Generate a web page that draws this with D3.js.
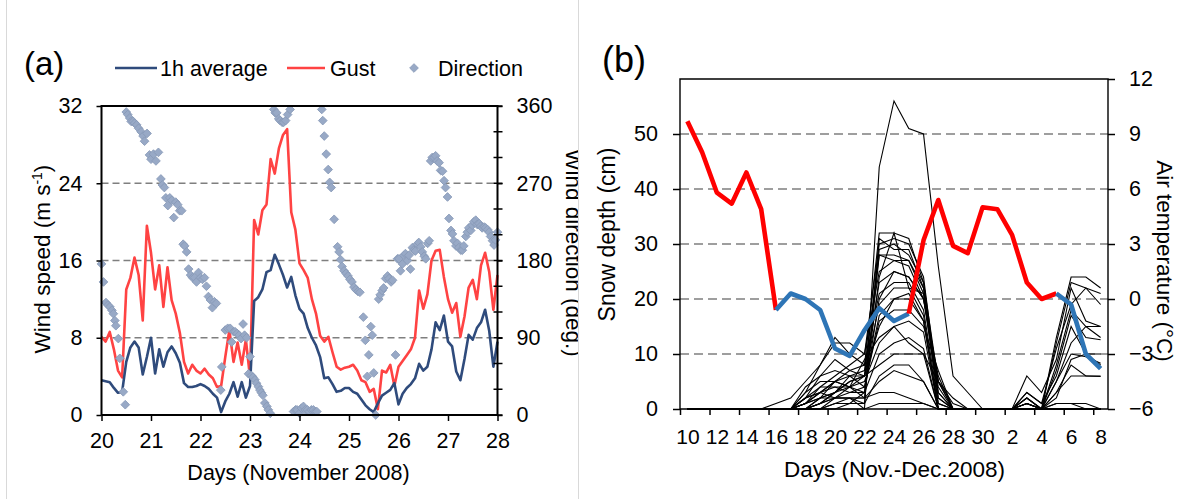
<!DOCTYPE html>
<html>
<head>
<meta charset="utf-8">
<script src="https://d3js.org/d3.v7.min.js"></script>
<style>
  body { margin: 0; background: #fff; }
  svg { display: block; font-family: Arial, "Liberation Sans", sans-serif; }
</style>
</head>
<body>
<svg id="chart" width="1185" height="499"></svg>
<script>

// ---- panel (a): wind, 2-hourly samples from 20 Nov 00:00 to 28 Nov 00:00
var windStart = 20;
var windStep = 1 / 12;

var windAvg = [
    3.6, 3.5, 3.4, 2.8, 2.3, 2.4, 5.5, 7.0, 7.6, 7.0, 4.2, 6.0,
    8.0, 4.3, 6.8, 5.0, 6.5, 7.1, 6.4, 5.4, 3.3, 2.9, 2.9, 3.0,
    3.2, 3.0, 2.7, 2.2, 1.8, 0.3, 1.4, 2.2, 3.4, 1.9, 3.4, 1.8,
    3.0, 11.8, 12.2, 13.0, 14.8, 15.0, 16.6, 15.6, 14.5, 13.2, 14.3, 12.4,
    11.0, 10.5, 9.0, 8.0, 7.2, 6.0, 3.8, 3.9, 3.2, 2.4, 2.5, 2.8,
    2.8, 2.4, 2.2, 1.6, 1.0, 0.6, 0.3, 1.2, 2.0, 2.3, 2.6, 3.3,
    1.1, 2.2, 2.8, 3.2, 3.8, 5.3, 4.6, 5.0, 6.8, 9.6, 8.8, 10.3,
    7.6, 7.1, 4.5, 3.6, 5.8, 8.3, 7.8, 9.0, 9.6, 10.9, 8.7, 5.0,
    7.6
];

var windGust = [
    8.1, 7.6, 8.6, 6.8, 4.6, 3.9, 13.0, 14.2, 16.3, 14.5, 9.8, 19.6,
    16.8, 13.0, 15.5, 11.2, 15.3, 11.9, 10.5, 8.5, 5.5, 4.3, 5.2, 4.6,
    4.3, 4.8, 4.2, 3.8, 2.9, 3.0, 6.0, 8.8, 5.5, 7.5, 5.2, 7.8,
    3.9, 20.2, 18.7, 21.2, 21.8, 26.5, 25.0, 27.6, 29.0, 29.6, 21.0, 19.2,
    15.7, 15.0, 14.2, 12.0, 10.5, 8.2, 7.6, 8.1, 6.5, 5.0, 4.7, 4.9,
    5.0, 5.2, 4.6, 3.6, 3.4, 2.4, 2.7, 0.6, 4.6, 4.4, 5.2, 3.0,
    5.0, 5.6, 6.2, 6.8, 8.0, 12.9, 11.0, 12.5, 16.0, 17.0, 17.1, 14.3,
    12.0, 10.6, 11.6, 8.1, 10.2, 13.2, 14.0, 12.0, 15.5, 16.8, 14.8, 10.9,
    14.5
];

var dirTime = [
    20.00, 20.04, 20.09, 20.13, 20.17, 20.21, 20.24, 20.27, 20.29, 20.34, 20.37, 20.44, 20.48,
    20.50, 20.53, 20.57, 20.60, 20.64, 20.67, 20.71, 20.75, 20.80, 20.84, 20.87, 20.92, 20.97,
    21.00, 21.05, 21.10, 21.15, 21.20, 21.23, 21.27, 21.30, 21.34, 21.38, 21.42, 21.46, 21.50,
    21.54, 21.58, 21.62,
    21.65, 21.68, 21.72, 21.76, 21.80, 21.84, 21.88, 21.92, 21.96, 22.00, 22.04, 22.08, 22.12,
    22.16, 22.20, 22.24, 22.28, 22.32, 22.41, 22.43,
    22.50, 22.55, 22.60, 22.63, 22.67, 22.70, 22.74, 22.78, 22.82, 22.86, 22.89, 22.93, 22.97,
    23.00, 23.03, 23.06, 23.10, 23.13, 23.17, 23.20, 23.23, 23.26, 23.30, 23.34, 23.37, 23.41,
    23.48, 23.51, 23.54, 23.58, 23.61, 23.65, 23.68, 23.72, 23.76, 23.81,
    23.88, 23.92, 23.95, 24.00, 24.04, 24.08, 24.12, 24.16, 24.20, 24.24, 24.28, 24.32, 24.35,
    24.45, 24.47, 24.50, 24.54, 24.58, 24.61, 24.64, 24.70, 24.77, 24.80, 24.83, 24.86, 24.90,
    24.94, 24.98, 25.02, 25.06, 25.10, 25.14, 25.18, 25.22, 25.29, 25.33, 25.37, 25.40, 25.44,
    25.47, 25.50, 25.54,
    25.60, 25.63, 25.67, 25.70, 25.74, 25.78, 25.81, 25.85, 25.88, 25.94, 25.98, 26.01, 26.04,
    26.08, 26.11, 26.14, 26.18, 26.21, 26.24, 26.28, 26.31, 26.34, 26.38, 26.41, 26.45, 26.48,
    26.52, 26.55, 26.59, 26.62,
    26.65, 26.68, 26.72, 26.75, 26.78, 26.82, 26.85, 26.89, 26.92, 26.95, 26.99, 27.02, 27.06,
    27.09, 27.12, 27.16, 27.19, 27.22, 27.26, 27.29, 27.32, 27.36, 27.39, 27.42, 27.46, 27.49,
    27.52, 27.56, 27.59, 27.63, 27.66, 27.69, 27.73, 27.76, 27.80, 27.83, 27.86, 27.90, 27.93,
    27.96, 28.00
];

var dirDeg = [
    176, 155, 131, 128, 126, 122, 118, 110, 104, 89, 66, 27, 12,
    353, 350, 346, 342, 342, 340, 338, 334, 330, 325, 319, 328, 303,
    298, 304, 296, 306, 275, 268, 265, 253, 244, 253, 250, 230, 248,
    245, 238, 238,
    199, 197, 190, 170, 163, 160, 160, 155, 166, 160, 158, 160, 150,
    138, 134, 125, 132, 130, 29, 56,
    99, 101, 101, 85, 97, 97, 95, 93, 89, 106, 93, 90, 48,
    68, 46, 44, 41, 37, 33, 29, 26, 23, 14, 10, 6, 2,
    356, 352, 352, 345, 343, 341, 341, 343, 350, 356,
    4, 6, 6, 2, 8, 10, 6, 6, 4, 6, 6, 4, 4,
    356, 343, 325, 304, 286, 271, 265, 228, 196, 190, 181, 173, 168,
    165, 162, 158, 155, 149, 146, 144, 143, 114, 87, 45, 70, 103,
    93, 49, 0,
    135, 140, 145, 148, 159, 162, 159, 155, 157, 70, 182, 182, 168,
    176, 186, 188, 180, 186, 170, 195, 192, 191, 199, 201, 196, 190,
    185, 182, 200, 203,
    296, 300, 300, 302, 296, 294, 285, 284, 273, 265, 254, 229, 215,
    211, 203, 197, 200, 195, 192, 192, 197, 208, 213, 218, 215, 221,
    225, 227, 222, 223, 220, 218, 219, 218, 216, 213, 208, 203, 198,
    204, 213
];

var speedTicks = [0, 8, 16, 24, 32];
var dirTicks = [0, 90, 180, 270, 360];
var dayTicks = [20, 21, 22, 23, 24, 25, 26, 27, 28];

// ---- panel (b): daily snow depth at many points and air temperature, 10 Nov - 8 Dec
var snowDays = ['10', '11', '12', '13', '14', '15', '16', '17', '18', '19', '20', '21', '22', '23',
    '24', '25', '26', '27', '28', '29', '30', '1', '2', '3', '4', '5', '6', '7', '8'];

var airTemp = [9.7, 8.0, 5.8, 5.2, 6.9, 4.9, -0.6, 0.3, 0.0, -0.6, -2.7, -3.1, -1.7, -0.5,
    -1.2, -0.8, 3.2, 5.4, 2.9, 2.5, 5.0, 4.9, 3.5, 0.9, 0.0, 0.3, -0.3, -3.0, -3.8];

// start / end day index of each temperature stretch and its colour
var tempStretch = [[0, 6], [6, 15], [15, 25], [25, 28]];
var tempColor = ['#ff0000', '#2e75b6', '#ff0000', '#2e75b6'];

var snowDepth = [
    [0, 0, 0, 0, 0, 0, 0, 0, 0, 0, 0, 0, 0, 44, 56, 51, 50, 26, 6, 3, 0, 0, 0, 0, 0, 0, 0, 0, 0],
    [0, 0, 0, 0, 0, 0, 1, 2, 5, 8, 13, 10, 8, 32, 32, 31, 23, 5, 0, 0, 0, 0, 0, 1, 0, 13, 24, 24, 22],
    [0, 0, 0, 0, 0, 0, 0, 0, 3, 8, 12, 12, 10, 30, 31, 30, 24, 3, 0, 0, 0, 0, 0, 2, 0, 12, 23, 22, 21],
    [0, 0, 0, 0, 0, 0, 0, 0, 2, 6, 9, 7, 6, 29, 30, 28, 23, 2, 0, 0, 0, 0, 0, 3, 1, 11, 19, 22, 19],
    [0, 0, 0, 0, 0, 0, 0, 0, 4, 6, 7, 6, 7, 28, 28, 27, 22, 4, 0, 0, 0, 0, 0, 6, 3, 9, 22, 16, 15],
    [0, 0, 0, 0, 0, 0, 0, 0, 1, 4, 6, 8, 10, 25, 27, 26, 20, 6, 0, 0, 0, 0, 0, 1, 0, 8, 18, 15, 13],
    [0, 0, 0, 0, 0, 0, 0, 0, 3, 5, 5, 4, 6, 23, 25, 24, 20, 3, 0, 0, 0, 0, 0, 2, 0, 7, 17, 13, 12.6],
    [0, 0, 0, 0, 0, 0, 0, 0, 2, 3, 5, 7, 8, 21, 23, 23, 18, 1, 0, 0, 0, 0, 0, 3, 1, 6, 15, 10, 8],
    [0, 0, 0, 0, 0, 0, 0, 0, 1, 2, 3, 5, 6, 19, 22, 22, 17, 0, 0, 0, 0, 0, 0, 1, 0, 5, 10, 9.5, 8.3],
    [0, 0, 0, 0, 0, 0, 0, 0, 2, 4, 4, 3, 4, 17, 20, 20, 16, 0, 0, 0, 0, 0, 0, 2, 0, 3, 8, 6, 6],
    [0, 0, 0, 0, 0, 0, 0, 0, 1, 3, 5, 6, 6, 15, 20, 21, 16, 0, 0, 0, 0, 0, 0, 1, 0, 5, 12, 15, 15],
    [0, 0, 0, 0, 0, 0, 0, 0, 0, 2, 3, 4, 5, 12, 15, 16, 14, 0, 0, 0, 0, 0, 0, 0, 0, 2, 9, 10, 10],
    [0, 0, 0, 0, 0, 0, 0, 0, 1, 2, 2, 3, 3, 10, 12, 13, 11, 0, 0, 0, 0, 0, 0, 1, 0, 3, 6, 6, 5.9],
    [0, 0, 0, 0, 0, 0, 0, 0, 0, 1, 3, 5, 6, 8, 10, 10, 10, 0, 0, 0, 0, 0, 0, 0, 0, 1, 1, 1, 0],
    [0, 0, 0, 0, 0, 0, 0, 0, 0, 1, 2, 2, 2, 5, 7, 6, 5, 0, 0, 0, 0, 0, 0, 0, 0, 1, 1, 0, 0],
    [0, 0, 0, 0, 0, 0, 0, 0, 1, 3, 4, 4, 2, 3, 3, 2, 1, 0, 0, 0, 0, 0, 0, 0, 0, 0, 0, 0, 0],
    [0, 0, 0, 0, 0, 0, 0, 0, 2, 3, 2, 2, 0, 1, 1, 1, 1, 0, 0, 0, 0, 0, 0, 0, 0, 0, 0, 0, 0],
    [0, 0, 0, 0, 0, 0, 0, 0, 0, 0, 1, 1, 1, 6, 8, 8, 5, 0, 0, 0, 0, 0, 0, 0, 0, 0, 0, 0, 0],
    [0, 0, 0, 0, 0, 0, 0, 0, 0, 1, 2, 2, 1, 31, 29, 29, 22, 2, 0, 0, 0, 0, 0, 0, 0, 0, 0, 0, 0],
    [0, 0, 0, 0, 0, 0, 0, 0, 0, 0, 1, 2, 2, 28, 27, 27, 21, 1, 0, 0, 0, 0, 0, 0, 0, 0, 0, 0, 0],
    [0, 0, 0, 0, 0, 0, 0, 0, 0, 0, 0, 1, 3, 24, 32, 22, 21, 5, 0, 0, 0, 0, 0, 0, 0, 0, 0, 0, 0],
    [0, 0, 0, 0, 0, 0, 0, 0, 0, 2, 5, 4, 3, 20, 25, 24, 20, 5, 2, 0, 0, 0, 0, 0, 0, 0, 0, 0, 0],
    [0, 0, 0, 0, 0, 0, 0, 0, 0, 1, 3, 6, 4, 16, 18, 18, 15, 7, 0, 0, 0, 0, 0, 0, 0, 0, 0, 0, 0],
    [0, 0, 0, 0, 0, 0, 0, 0, 0, 0, 2, 4, 9, 13, 15, 12, 10, 5, 1, 0, 0, 0, 0, 0, 0, 0, 0, 0, 0]
];

var depthTicks = [0, 10, 20, 30, 40, 50];
var tempTicks = [-6, -3, 0, 3, 6, 9, 12];


var svg = d3.select('#chart');

// faint frame lines of the two pasted figures
svg.selectAll('.frame')
    .data([6.5, 578.5])
    .enter().append('line')
    .attr('x1', function(d) { return d; })
    .attr('x2', function(d) { return d; })
    .attr('y1', 0)
    .attr('y2', 499)
    .attr('stroke', '#d9d9d9')
    .attr('stroke-width', 1);

drawWind();
drawSnow();


function styleAxis(g, fontSize) {

    g.select('.domain').remove();
    g.selectAll('line').attr('stroke', '#000').attr('stroke-width', 1.5);
    g.selectAll('text')
        .attr('fill', '#000')
        .style('font-size', fontSize + 'px')
        .style('font-family', 'Arial, "Liberation Sans", sans-serif');

}


function drawWind() {

    svg.append('clipPath').attr('id', 'clipA')
        .append('rect').attr('x', 0).attr('y', 0).attr('width', 578).attr('height', 499);

    var g = svg.append('g').attr('clip-path', 'url(#clipA)');

    var x = d3.scaleLinear().domain([20, 28]).range([101.5, 497.5]);
    var y = d3.scaleLinear().domain([0, 32]).range([415, 106]);
    var yDir = d3.scaleLinear().domain([0, 360]).range([415, 106]);

    // dashed grid
    g.selectAll('.grid')
        .data(speedTicks.filter(function(d) { return d > 0 && d < 32; }))
        .enter().append('line')
        .attr('x1', x(20)).attr('x2', x(28))
        .attr('y1', function(d) { return y(d); })
        .attr('y2', function(d) { return y(d); })
        .attr('stroke', '#7f7f7f')
        .attr('stroke-width', 1.3)
        .attr('stroke-dasharray', '7,4');

    var line = d3.line()
        .x(function(d, i) { return x(windStart + i * windStep); })
        .y(function(d) { return y(d); });

    g.append('path').datum(windGust)
        .attr('d', line)
        .attr('fill', 'none')
        .attr('stroke', '#ff4343')
        .attr('stroke-width', 2.6)
        .attr('stroke-linejoin', 'round');

    g.append('path').datum(windAvg)
        .attr('d', line)
        .attr('fill', 'none')
        .attr('stroke', '#2f4b7c')
        .attr('stroke-width', 2.6)
        .attr('stroke-linejoin', 'round');

    var diamond = d3.symbol().type(d3.symbolSquare).size(38);

    g.selectAll('.dir')
        .data(dirDeg)
        .enter().append('path')
        .attr('d', diamond)
        .attr('transform', function(d, i) {
            return 'translate(' + x(dirTime[i]) + ',' + yDir(d) + ') rotate(45)';
        })
        .attr('fill', '#98a9c6')
        .attr('stroke', '#8899b7')
        .attr('stroke-width', 0.8);

    // frame: left, right and top
    g.append('path')
        .attr('d', 'M' + x(20) + ',' + y(0) + 'V' + y(32) + 'H' + x(28) + 'V' + y(0) + 'H' + x(20))
        .attr('fill', 'none')
        .attr('stroke', '#000')
        .attr('stroke-width', 2);

    var left = g.append('g')
        .attr('transform', 'translate(' + x(20) + ',0)')
        .call(d3.axisLeft(y).tickValues(speedTicks).tickSize(5).tickPadding(14));
    styleAxis(left, 21.5);

    var bottom = g.append('g')
        .attr('transform', 'translate(0,' + y(0) + ')')
        .call(d3.axisBottom(x).tickValues(dayTicks).tickSize(6).tickPadding(11.5).tickFormat(d3.format('d')));
    styleAxis(bottom, 21.5);

    var right = g.append('g')
        .attr('transform', 'translate(' + x(28) + ',0)')
        .call(d3.axisRight(yDir).tickValues(dirTicks).tickSize(5).tickPadding(14));
    styleAxis(right, 21.5);

    // minor ticks every 30 deg, crossing the right axis
    g.selectAll('.minor')
        .data(d3.range(0, 361, 30))
        .enter().append('line')
        .attr('x1', x(28) - 4).attr('x2', x(28) + 5)
        .attr('y1', function(d) { return yDir(d); })
        .attr('y2', function(d) { return yDir(d); })
        .attr('stroke', '#000')
        .attr('stroke-width', 1.5);

    // titles
    g.append('text')
        .attr('x', 24).attr('y', 75)
        .style('font-size', '33px')
        .text('(a)');

    var ylab = g.append('text')
        .attr('transform', 'translate(50,259) rotate(-90)')
        .attr('text-anchor', 'middle')
        .style('font-size', '22.5px');
    ylab.append('tspan').text('Wind speed (m s');
    ylab.append('tspan').attr('baseline-shift', 'super').style('font-size', '14px').text('-1');
    ylab.append('tspan').text(')');

    // this one runs past the edge of the figure and is cut there
    g.append('text')
        .attr('transform', 'translate(566,253) rotate(90)')
        .attr('text-anchor', 'middle')
        .style('font-size', '22.5px')
        .text('Wind direction (deg.)');

    g.append('text')
        .attr('x', 298.5).attr('y', 480)
        .attr('text-anchor', 'middle')
        .style('font-size', '21.5px')
        .text('Days (November 2008)');

    // legend
    var legend = g.append('g').style('font-size', '21.5px');

    legend.append('line')
        .attr('x1', 115).attr('x2', 157).attr('y1', 68).attr('y2', 68)
        .attr('stroke', '#2f4b7c').attr('stroke-width', 2.6);
    legend.append('text').attr('x', 160).attr('y', 75.5).text('1h average');

    legend.append('line')
        .attr('x1', 287).attr('x2', 325).attr('y1', 68).attr('y2', 68)
        .attr('stroke', '#ff4343').attr('stroke-width', 2.6);
    legend.append('text').attr('x', 330).attr('y', 75.5).text('Gust');

    legend.append('path')
        .attr('d', diamond)
        .attr('transform', 'translate(414,68) rotate(45)')
        .attr('fill', '#98a9c6')
        .attr('stroke', '#8899b7')
        .attr('stroke-width', 0.8);
    legend.append('text').attr('x', 438).attr('y', 75.5).text('Direction');

}


function drawSnow() {

    var g = svg.append('g');

    var x = d3.scaleLinear().domain([-0.5, snowDays.length - 0.5]).range([680, 1108]);
    var y = d3.scaleLinear().domain([0, 60]).range([409, 79]);
    var yT = d3.scaleLinear().domain([-6, 12]).range([409, 79]);

    g.selectAll('.grid')
        .data(depthTicks.filter(function(d) { return d > 0; }))
        .enter().append('line')
        .attr('x1', 680).attr('x2', 1108)
        .attr('y1', function(d) { return y(d); })
        .attr('y2', function(d) { return y(d); })
        .attr('stroke', '#7f7f7f')
        .attr('stroke-width', 1.5)
        .attr('stroke-dasharray', '9,5');

    var depthLine = d3.line()
        .x(function(d, i) { return x(i); })
        .y(function(d) { return y(d); });

    g.selectAll('.snow')
        .data(snowDepth)
        .enter().append('path')
        .attr('d', depthLine)
        .attr('fill', 'none')
        .attr('stroke', '#000')
        .attr('stroke-width', 1.1);

    var tempLine = d3.line()
        .x(function(d) { return x(d); })
        .y(function(d) { return yT(airTemp[d]); });

    g.selectAll('.temp')
        .data(tempStretch)
        .enter().append('path')
        .attr('d', function(d) { return tempLine(d3.range(d[0], d[1] + 1)); })
        .attr('fill', 'none')
        .attr('stroke', function(d, i) { return tempColor[i]; })
        .attr('stroke-width', 4.6)
        .attr('stroke-linejoin', 'round');

    // frame
    g.append('path')
        .attr('d', 'M680,' + y(0) + 'V' + y(60) + 'H1108V' + y(0) + 'H680')
        .attr('fill', 'none')
        .attr('stroke', '#000')
        .attr('stroke-width', 1.4);

    var left = g.append('g')
        .attr('transform', 'translate(680,0)')
        .call(d3.axisLeft(y).tickValues(depthTicks).tickSize(7).tickPadding(15));
    styleAxis(left, 21.5);

    var right = g.append('g')
        .attr('transform', 'translate(1108,0)')
        .call(d3.axisRight(yT).tickValues(tempTicks).tickSize(7).tickPadding(14));
    styleAxis(right, 21.5);

    // category labels every second day, ticks on the category boundaries
    var labels = g.append('g')
        .attr('transform', 'translate(0,' + y(0) + ')')
        .call(d3.axisBottom(x)
            .tickValues(d3.range(0, snowDays.length, 2))
            .tickSize(0).tickPadding(20)
            .tickFormat(function(d) { return snowDays[d]; }));
    styleAxis(labels, 21);

    var ticks = g.append('g')
        .attr('transform', 'translate(0,' + y(0) + ')')
        .call(d3.axisBottom(x)
            .tickValues(d3.range(-0.5, snowDays.length - 1, 2))
            .tickSize(6).tickFormat(''));
    styleAxis(ticks, 21);

    g.append('text')
        .attr('x', 602).attr('y', 71.5)
        .style('font-size', '36px')
        .text('(b)');

    g.append('text')
        .attr('transform', 'translate(615,234.5) rotate(-90)')
        .attr('text-anchor', 'middle')
        .style('font-size', '23px')
        .text('Snow depth (cm)');

    g.append('text')
        .attr('transform', 'translate(1157,261) rotate(90)')
        .attr('text-anchor', 'middle')
        .style('font-size', '22.5px')
        .text('Air temperature (\u00b0C)');

    g.append('text')
        .attr('x', 894.5).attr('y', 476.5)
        .attr('text-anchor', 'middle')
        .style('font-size', '22.5px')
        .text('Days (Nov.-Dec.2008)');

}

</script>
</body>
</html>
